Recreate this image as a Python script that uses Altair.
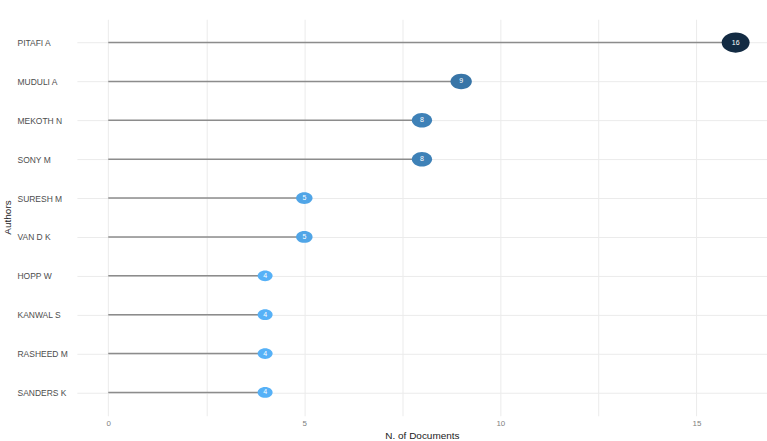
import altair as alt
import pandas as pd

authors = ["PITAFI A", "MUDULI A", "MEKOTH N", "SONY M", "SURESH M",
           "VAN D K", "HOPP W", "KANWAL S", "RASHEED M", "SANDERS K"]
docs = [16, 9, 8, 8, 5, 5, 4, 4, 4, 4]

df = pd.DataFrame({"author": authors, "docs": docs, "zero": [0] * len(docs)})

FONT = "Liberation Sans"
ellipse = "M -1 0 A 1 0.72 0 1 1 1 0 A 1 0.72 0 1 1 -1 0 Z"

xscale = alt.Scale(domain=[-0.8, 16.8], nice=False, zero=False)
yscale = alt.Scale(type="point", padding=0.6)

x_axis = alt.Axis(
    values=[0, 2.5, 5, 7.5, 10, 12.5, 15],
    labelExpr="datum.value % 5 == 0 ? datum.label : ''",
    ticks=False, domain=False, grid=True, gridColor="#EBEBEB", gridWidth=1,
    labelFont=FONT, labelFontSize=8, labelColor="#7F7F7F", labelPadding=4,
    title="N. of Documents", titleFont=FONT, titleFontSize=10,
    titleFontWeight="normal", titleColor="#222222",
    titleY=20, titleBaseline="middle",
)
y_axis = alt.Axis(
    labelAlign="left", labelPadding=60, ticks=False, domain=False,
    grid=True, gridColor="#EBEBEB", gridWidth=1,
    labelFont=FONT, labelFontSize=8.5, labelColor="#4D4D4D",
    title="Authors", titleFont=FONT, titleFontSize=10, titleFontWeight="normal",
    titleColor="#222222", titleX=-69, titleY=198, titleAngle=270,
    titleBaseline="middle",
)

base = alt.Chart(df)

rules = base.mark_rule(color="#8C8C8C", strokeWidth=1.5).encode(
    x=alt.X("zero:Q", scale=xscale, axis=x_axis),
    x2="docs:Q",
    y=alt.Y("author:N", sort=authors, scale=yscale, axis=y_axis),
)

points = base.mark_point(shape=ellipse, filled=True, opacity=1).encode(
    x=alt.X("docs:Q", scale=xscale),
    y=alt.Y("author:N", sort=authors, scale=yscale),
    size=alt.Size("docs:Q", scale=alt.Scale(domain=[4, 16], range=[225, 784]), legend=None),
    color=alt.Color("docs:Q", scale=alt.Scale(domain=[4, 16], range=["#56B1F7", "#132B43"], interpolate="lab"), legend=None),
)

labels = base.mark_text(color="white", fontSize=7, font=FONT, align="center", baseline="middle").encode(
    x=alt.X("docs:Q", scale=xscale),
    y=alt.Y("author:N", sort=authors, scale=yscale),
    text="docs:Q",
)

chart = alt.layer(rules, points, labels).properties(
    width=691, height=397,
    autosize=alt.AutoSizeParams(type="none"),
    padding={"left": 77, "top": 19, "right": 0, "bottom": 25},
    background="white",
).configure_view(stroke=None)

chart.save("out.html", embed_options={"renderer": "svg", "actions": False})
